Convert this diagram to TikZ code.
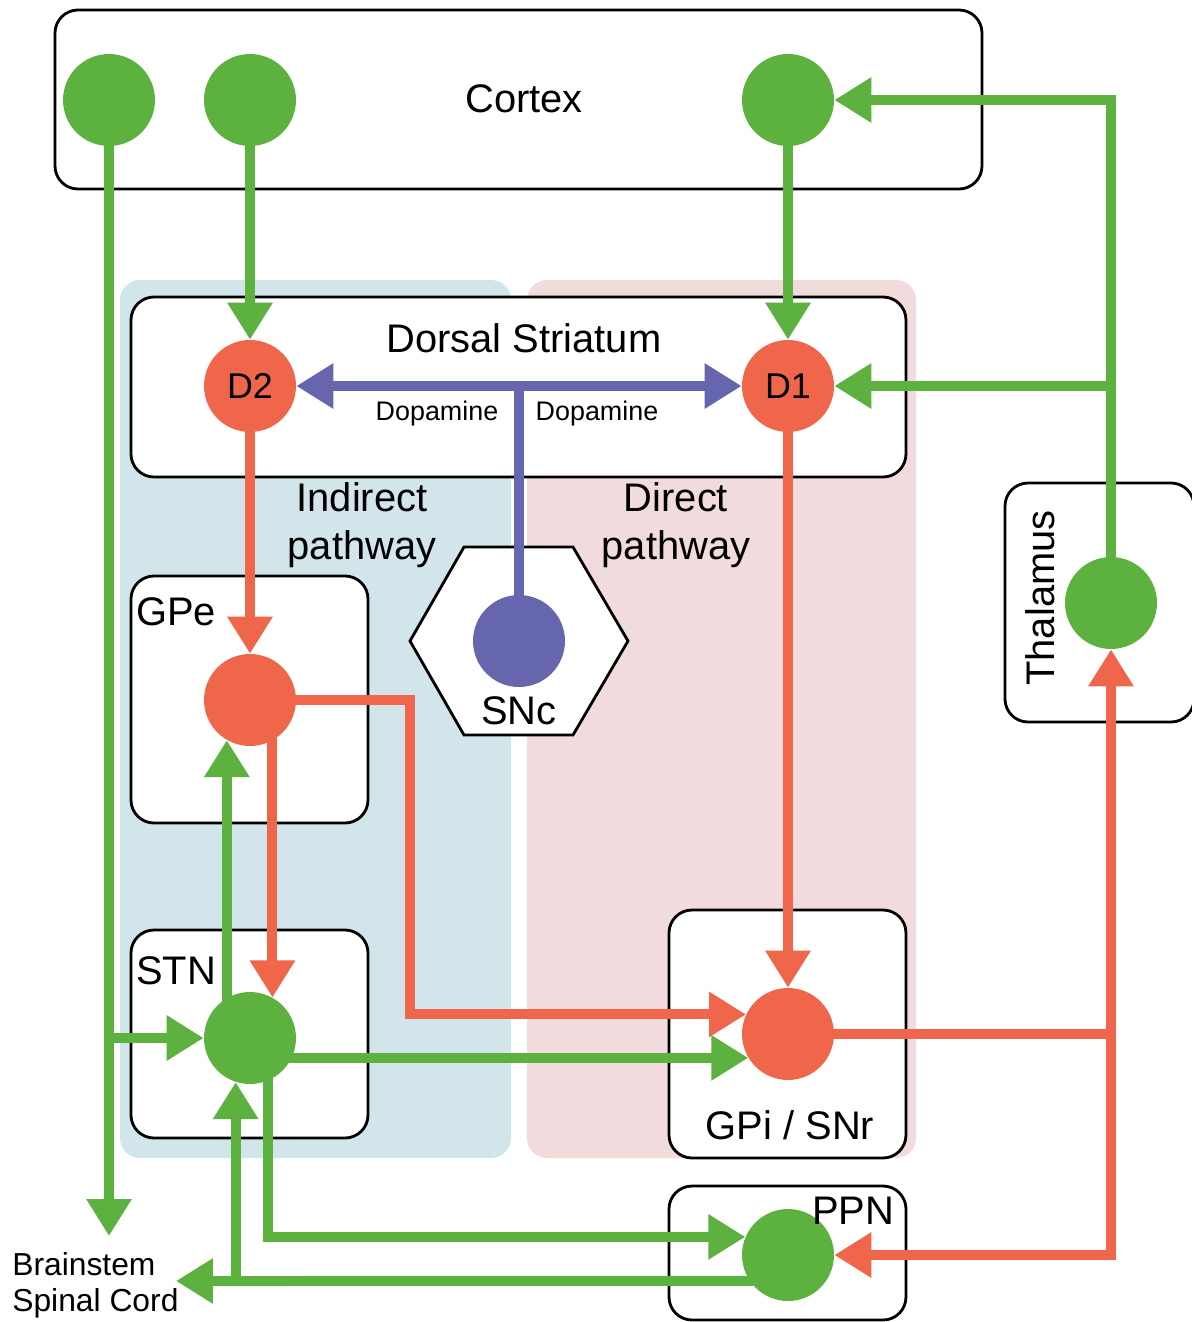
\documentclass[tikz,border=0pt]{standalone}
\usepackage{fontspec}
\setmainfont{Liberation Sans}
\usetikzlibrary{arrows.meta}
\pgfdeclarelayer{back}
\pgfdeclarelayer{wires}
\pgfsetlayers{back,wires,main}

\definecolor{excgreen}{HTML}{5DB13E}
\definecolor{inhred}{HTML}{EF664A}
\definecolor{dopblue}{HTML}{6666AE}
\definecolor{indbg}{HTML}{D1E5EB}
\definecolor{dirbg}{HTML}{F2DBDC}

\newcommand{\labelfont}{\fontsize{22.7pt}{27.2pt}\selectfont}
\newcommand{\cellfont}{\fontsize{20.4pt}{24pt}\selectfont}
\newcommand{\dopfont}{\fontsize{15.3pt}{18pt}\selectfont}
\newcommand{\outfont}{\fontsize{18.1pt}{20.4pt}\selectfont}

\begin{document}
\begin{tikzpicture}[x=0.02cm, y=-0.02cm,
    cell/.style={circle, minimum size=1.84cm, inner sep=0pt, font=\cellfont},
    area/.style={draw=black, line width=1.6pt, fill=white, rounded corners=0.46cm},
    conn/.style={line width=0.2cm, -{Triangle[width=0.86cm, length=0.74cm]}},
    wire/.style={line width=0.2cm},
    lbl/.style={inner sep=0pt, font=\labelfont}]
    \useasboundingbox (0,0) rectangle (1192,1322);

    % cells
    \node[cell, fill=excgreen] (ctxA) at (109,100) {};
    \node[cell, fill=excgreen] (ctxB) at (250,100) {};
    \node[cell, fill=excgreen] (ctxC) at (788,100) {};
    \node[cell, fill=inhred] (D2) at (250,386) {D2};
    \node[cell, fill=inhred] (D1) at (788,386) {D1};
    \node[cell, fill=dopblue] (snc) at (519,641) {};
    \node[cell, fill=inhred] (gpe) at (250,700) {};
    \node[cell, fill=excgreen] (stn) at (250,1038) {};
    \node[cell, fill=inhred] (gpi) at (788,1034) {};
    \node[cell, fill=excgreen] (ppn) at (788,1255) {};
    \node[cell, fill=excgreen] (thal) at (1111,603) {};

    % labels
    \node[lbl] (cortexlbl) at (524,99) {Cortex};
    \node[lbl] (striatumlbl) at (524,338) {Dorsal Striatum};
    \node[inner sep=0pt, font=\dopfont] (dopL) at (437,414) {Dopamine};
    \node[inner sep=0pt, font=\dopfont] (dopR) at (597,414) {Dopamine};
    \node[lbl, align=center] (indirectlbl) at (362,525) {Indirect\\pathway};
    \node[lbl, align=center] (directlbl) at (676,525) {Direct\\pathway};
    \node[lbl] (snclbl) at (519,711) {SNc};
    \node[lbl, anchor=west] (gpelbl) at (136,612) {GPe};
    \node[lbl, anchor=west] (stnlbl) at (136,971) {STN};
    \node[lbl] (gpilbl) at (790,1125) {GPi / SNr};
    \node[lbl] (ppnlbl) at (853,1211) {PPN};
    \node[lbl, rotate=90] (thallbl) at (1040,598) {Thalamus};
    \node[inner sep=0pt, font=\outfont, align=left, anchor=north west] (bslbl) at (12,1252) {Brainstem\\Spinal Cord};

    \coordinate (bsdown) at (109,1236);
    \coordinate (bsleft) at (176,1281);

    % regions
    \begin{pgfonlayer}{back}
    \fill[indbg, rounded corners=0.4cm] (120,280) rectangle (511,1158);
    \fill[dirbg, rounded corners=0.4cm] (527,280) rectangle (916,1158);
    \draw[area] (55,10) rectangle (982,189);
    \draw[area] (131,297) rectangle (906,477);
    \draw[area] (131,576) rectangle (368,823);
    \draw[area] (131,930) rectangle (368,1138);
    \draw[area] (669,910) rectangle (906,1158);
    \draw[area] (669,1186) rectangle (906,1320);
    \draw[area] (1005,483) rectangle (1194,722);
    \draw[area, rounded corners=0pt] (410,641) -- (464,547) -- (573,547) -- (628,641) -- (573,735) -- (464,735) -- cycle;
    \end{pgfonlayer}

    % connections
    \begin{pgfonlayer}{wires}
    \draw[conn, excgreen] (ctxA.center) -- (bsdown);
    \draw[conn, excgreen] (ctxA |- stn) -- (stn);
    \draw[conn, excgreen] (ctxB.center) -- (D2);
    \draw[conn, excgreen] (ctxC.center) -- (D1);
    \draw[conn, excgreen] (thal.center) |- (ctxC);
    \draw[conn, excgreen] (thal |- D1) -- (D1);
    % dopamine
    \draw[wire, dopblue] (snc.center) -- (snc |- D1);
    \draw[conn, dopblue] (snc |- D2) -- (D2);
    \draw[conn, dopblue] (snc |- D1) -- (D1);
    % indirect pathway
    \draw[conn, inhred] (D2.center) -- (gpe);
    \draw[conn, inhred] (gpe.center) -- ++(160,0) |- (gpi.155.6);
    \draw[conn, inhred] (stn.61.4 |- gpe.center) -- (stn.61.4);
    \draw[conn, excgreen] (gpe.240 |- stn.center) -- (gpe.240);
    \draw[conn, excgreen] (stn.center |- gpi.211.4) -- (gpi.211.4);
    % direct pathway
    \draw[conn, inhred] (D1.center) -- (gpi);
    \draw[wire, inhred] (gpi.center) -- (gpi.center -| thal);
    \draw[conn, inhred] (gpi.center -| thal) -- (thal);
    \draw[conn, inhred] (gpi.center -| thal) |- (ppn);
    % ppn
    \draw[conn, excgreen] (stn.293 |- stn.center) |- (ppn.157);
    \draw[conn, excgreen] (ppn.214.4 -| ppn.center) -- (bsleft);
    \draw[conn, excgreen] (stn.252.3 |- bsleft) -- (stn.252.3);
    \end{pgfonlayer}
\end{tikzpicture}
\end{document}
